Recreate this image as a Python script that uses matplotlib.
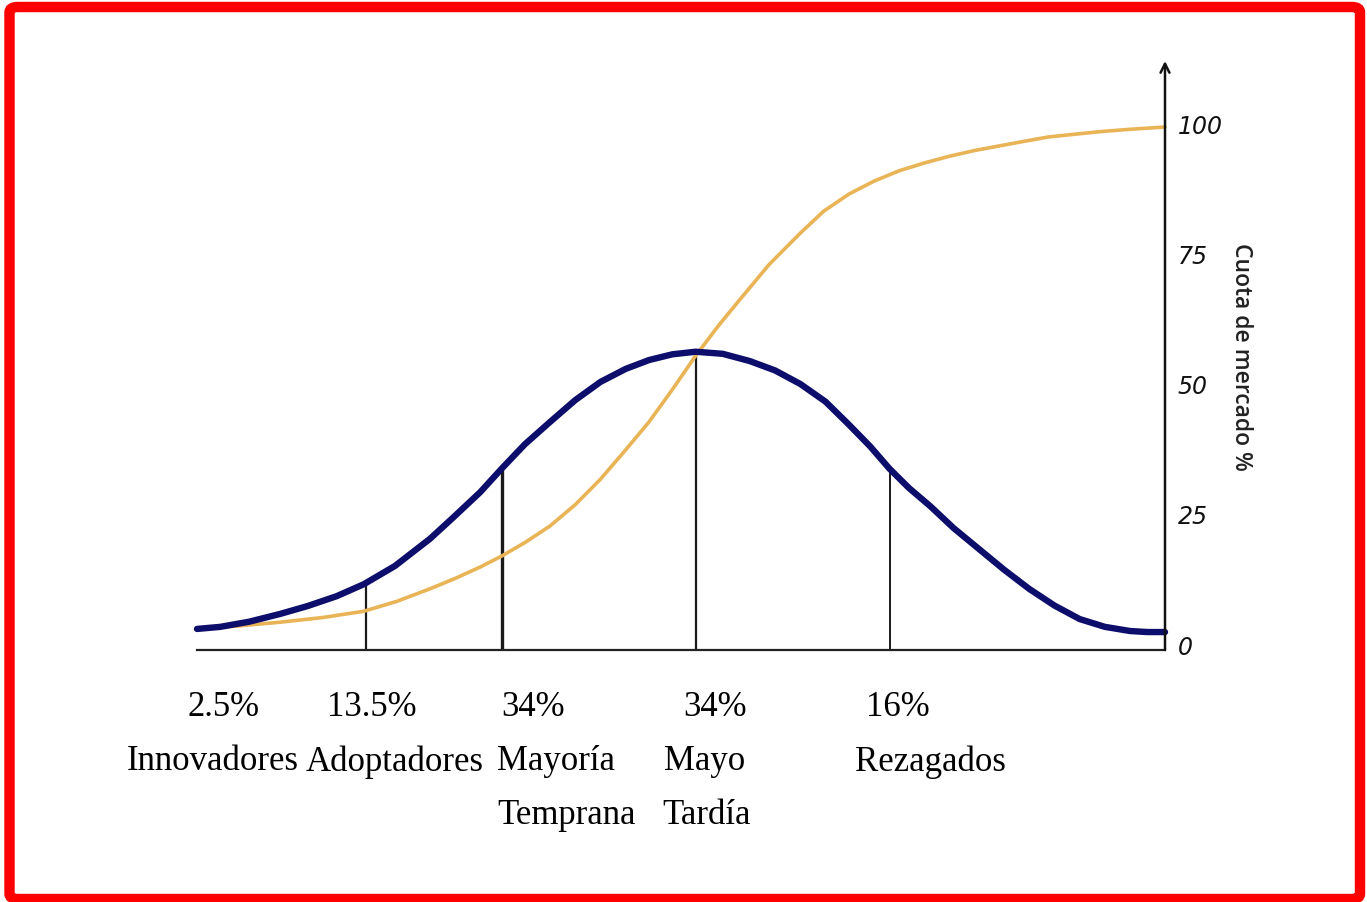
import matplotlib.pyplot as plt
from matplotlib.patches import FancyBboxPatch

# valores (eje x en desviaciones típicas, eje y en %)
bell_x = [-2.57, -2.45, -2.30, -2.14, -2.00, -1.85, -1.71, -1.55, -1.37, -1.25,
          -1.11, -1.00, -0.88, -0.75, -0.62, -0.49, -0.36, -0.24, -0.12, 0.00,
          0.14, 0.28, 0.41, 0.54, 0.67, 0.79, 0.90, 1.00, 1.10, 1.21,
          1.33, 1.46, 1.59, 1.72, 1.85, 1.98, 2.11, 2.24, 2.33, 2.42]
bell_y = [2.9, 3.3, 4.3, 5.8, 7.3, 9.2, 11.5, 15.0, 20.2, 24.3,
          29.2, 33.7, 38.4, 42.7, 46.9, 50.4, 52.9, 54.6, 55.7, 56.2,
          55.8, 54.4, 52.6, 50.0, 46.6, 42.2, 38.0, 33.7, 30.0, 26.5,
          22.3, 18.3, 14.3, 10.6, 7.4, 4.8, 3.3, 2.5, 2.3, 2.3]

s_x = [-2.57, -2.35, -2.14, -1.92, -1.71, -1.54, -1.37, -1.24, -1.11, -1.00,
       -0.88, -0.75, -0.62, -0.49, -0.37, -0.24, -0.12, 0.00, 0.12, 0.23,
       0.38, 0.54, 0.66, 0.79, 0.92, 1.05, 1.18, 1.31, 1.44, 1.57,
       1.70, 1.82, 1.95, 2.08, 2.25, 2.42]
s_y = [2.9, 3.5, 4.2, 5.1, 6.3, 8.2, 10.6, 12.6, 14.8, 16.9,
       19.5, 22.7, 26.8, 31.7, 36.9, 42.7, 48.9, 55.4, 61.3, 66.3,
       73.0, 79.0, 83.2, 86.5, 89.0, 91.0, 92.5, 93.8, 94.9, 95.8,
       96.7, 97.5, 98.0, 98.5, 99.0, 99.4]

cortes_x = [-1.70, -1.00, 0.00, 1.00]
cortes_y = [11.5, 34.0, 56.2, 34.0]

y_ticks = [0, 25, 50, 75, 100]

porcentajes = ["2.5%", "13.5%", "34%", "34%", "16%"]
grupos = ["Innovadores", "Adoptadores", "Mayoría", "Mayo", "Rezagados"]
grupos_2 = ["", "", "Temprana", "Tardía", ""]

W, H = 1367, 903
fig = plt.figure(figsize=(W / 100, H / 100), dpi=100)
ax = fig.add_axes([197 / W, 1 - 651 / H, 968 / W, (651 - 62) / H])

y0, y1 = -1.15, 112.1
ax.set_xlim(-2.57, 2.42)
ax.set_ylim(y0, y1)

ax.plot(s_x, s_y, color="#e8b455", lw=2.6, solid_capstyle="round",
        solid_joinstyle="round", clip_on=False, zorder=2)
ax.plot(bell_x, bell_y, color="#0d0d6b", lw=4.6, solid_capstyle="round",
        solid_joinstyle="round", clip_on=False, zorder=3)

anchos = [1.6, 2.4, 1.6, 1.4]
for cx, cy, w in zip(cortes_x, cortes_y, anchos):
    ax.plot([cx, cx], [y0, cy], color="#1a1a1a", lw=w, zorder=1)

for s in ["top", "left", "right"]:
    ax.spines[s].set_visible(False)
ax.spines["bottom"].set_linewidth(1.6)
ax.spines["bottom"].set_color("#222222")
ax.annotate("", xy=(2.42, y1), xytext=(2.42, y0),
            arrowprops=dict(arrowstyle="->", lw=1.8, color="#111111",
                            mutation_scale=16, shrinkA=0, shrinkB=0),
            annotation_clip=False)

ax.set_xticks([])
ax.yaxis.tick_right()
ax.set_yticks(y_ticks)
ax.set_yticklabels([str(t) for t in y_ticks], fontstyle="italic",
                   fontfamily="DejaVu Sans", fontsize=17)
ax.tick_params(axis="y", length=0, pad=9, labelcolor="#111111")
ax.yaxis.set_label_position("right")
ax.set_ylabel("Cuota de mercado %", rotation=270, fontfamily="Open Sans",
              fontsize=16.5, fontweight="semibold", labelpad=22, color="#222222")

serif = "Liberation Serif"
pct_pos = [224, 372, 533, 715, 898]
grp_pos = [213, 395, 556, 705, 930]
grp2_pos = [567, 567, 567, 707, 707]
for i in range(len(porcentajes)):
    fig.text(pct_pos[i] / W, 1 - 708 / H, porcentajes[i], family=serif,
             fontsize=25, ha="center", va="center", color="#000000")
    fig.text(grp_pos[i] / W, 1 - 762 / H, grupos[i], family=serif,
             fontsize=25, ha="center", va="center", color="#000000")
    if grupos_2[i]:
        fig.text(grp2_pos[i] / W, 1 - 816 / H, grupos_2[i], family=serif,
                 fontsize=25, ha="center", va="center", color="#000000")

# marco rojo
marco = FancyBboxPatch((9.5 / W, 1 - 900 / H), (1360 - 9.5) / W, (900 - 8) / H,
                       boxstyle="round,pad=0,rounding_size=0.006",
                       transform=fig.transFigure, fill=False,
                       edgecolor="#ff0000", lw=7.5, zorder=10)
fig.patches.append(marco)

fig.savefig("out.png", dpi=100)
